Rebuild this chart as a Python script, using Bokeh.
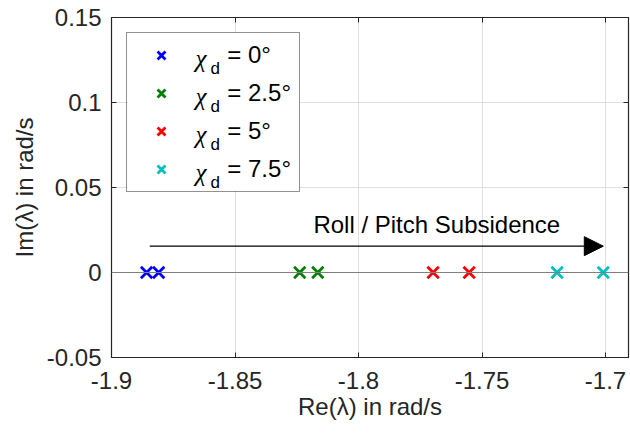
from bokeh.plotting import figure
from bokeh.models import (Legend, LegendItem, Arrow, NormalHead, Label, FixedTicker,
                          LinearAxis, Span, Range1d, CustomJSTickFormatter, BoxAnnotation)
from bokeh.embed import file_html
from bokeh.resources import INLINE

# ---- data ----
series_names = ["0°", "2.5°", "5°", "7.5°"]
series_colors = ["#0000ff", "#008000", "#ff0000", "#00bfbf"]
re_chi_0 = [-1.8858, -1.8809]
re_chi_2_5 = [-1.8238, -1.8165]
re_chi_5 = [-1.7698, -1.7552]
re_chi_7_5 = [-1.7196, -1.7009]
im_vals = [0.0, 0.0]
re_series = [re_chi_0, re_chi_2_5, re_chi_5, re_chi_7_5]

x_ticks = [-1.9, -1.85, -1.8, -1.75, -1.7]
x_tick_labels = ["-1.9", "-1.85", "-1.8", "-1.75", "-1.7"]
y_ticks = [-0.05, 0.0, 0.05, 0.1, 0.15]
y_tick_labels = ["-0.05", "0", "0.05", "0.1", "0.15"]

arrow_x = [-1.8845, -1.7009]
arrow_y = 0.0155
annot_text = "Roll / Pitch Subsidence"
annot_x = -1.7683
annot_y = 0.028

FONT = "Liberation Sans"
FS = "24px"
AX = "#262626"
NB = "\u00a0"

p = figure(width=630, height=437, output_backend="svg", toolbar_location=None,
           x_range=Range1d(-1.9, -1.6907), y_range=Range1d(-0.05, 0.15),
           min_border_left=111, min_border_right=2, min_border_top=17,
           min_border_bottom=80, background_fill_color="white",
           border_fill_color="white")
p.outline_line_color = AX
p.outline_line_width = 1.2

for ax in (p.xaxis[0], p.yaxis[0]):
    ax.major_tick_in = 5
    ax.major_tick_out = 0
    ax.minor_tick_line_color = None
    ax.axis_line_color = AX
    ax.major_tick_line_color = AX
    ax.major_label_text_font = FONT
    ax.major_label_text_font_size = FS
    ax.major_label_text_color = AX
    ax.axis_label_text_font = FONT
    ax.axis_label_text_font_size = FS
    ax.axis_label_text_font_style = "normal"
    ax.axis_label_text_color = AX

p.xaxis[0].ticker = FixedTicker(ticks=x_ticks)
p.xaxis[0].major_label_overrides = dict(zip(x_ticks, x_tick_labels))
p.yaxis[0].ticker = FixedTicker(ticks=y_ticks)
p.yaxis[0].major_label_overrides = dict(zip(y_ticks, y_tick_labels))
p.xaxis[0].axis_label = "Re(λ) in rad/s"
p.yaxis[0].axis_label = "Im(λ) in rad/s"
p.xaxis[0].major_label_standoff = 14
p.yaxis[0].major_label_standoff = 10
p.xaxis[0].axis_label_standoff = 1
p.yaxis[0].axis_label_standoff = 6

# mirrored axes (box with ticks on top/right)
blank = CustomJSTickFormatter(code="return ''")
top_ax = LinearAxis(ticker=FixedTicker(ticks=x_ticks), formatter=blank, major_tick_in=5,
                    major_tick_out=0, minor_tick_line_color=None, major_label_standoff=0,
                    axis_line_color=AX, major_tick_line_color=AX)
right_ax = LinearAxis(ticker=FixedTicker(ticks=y_ticks), formatter=blank, major_tick_in=5,
                      major_tick_out=0, minor_tick_line_color=None, major_label_standoff=0,
                      axis_line_color=AX, major_tick_line_color=AX)
p.add_layout(top_ax, "above")
p.add_layout(right_ax, "right")

p.xgrid.ticker = FixedTicker(ticks=x_ticks)
p.ygrid.ticker = FixedTicker(ticks=y_ticks)
p.grid.grid_line_color = "#dfdfdf"
p.grid.grid_line_width = 1

p.add_layout(Span(location=0, dimension="width", line_color="#808080", line_width=1.2))

items = []
for name, col, xs in zip(series_names, series_colors, re_series):
    r = p.scatter(xs, im_vals, marker="x", size=16, line_width=2.8, line_color=col)
    items.append(LegendItem(label=NB * 5 + "= " + name, renderers=[r]))

FRAME_H = 340
# white backing for the legend (legend itself is transparent so the chi labels show)
p.add_layout(BoxAnnotation(left=16, right=188, top=FRAME_H - 15, bottom=FRAME_H - 173,
                           left_units="screen", right_units="screen",
                           top_units="screen", bottom_units="screen",
                           fill_color="white", fill_alpha=1, line_color=None))

# chi with subscript d for the legend labels
for i in range(len(series_names)):
    row_c = 37 + 38 * i  # row centre measured from frame top
    p.add_layout(Label(x=84, y=FRAME_H - (row_c + 4), x_units="screen", y_units="screen",
                       text="χ", text_font="Liberation Serif", text_font_style="italic",
                       text_font_size="25px", text_color="black",
                       text_baseline="alphabetic"))
    p.add_layout(Label(x=99, y=FRAME_H - (row_c + 14), x_units="screen", y_units="screen",
                       text="d", text_font=FONT, text_font_size="17px",
                       text_color="black", text_baseline="alphabetic"))

legend = Legend(items=items, location="top_left", margin=15, padding=8,
                spacing=10, glyph_width=52, glyph_height=28, label_height=28,
                label_standoff=7, label_text_font=FONT, label_text_font_size=FS,
                label_text_color="black", border_line_color=AX, border_line_width=1.5,
                background_fill_alpha=0)
p.add_layout(legend)

p.add_layout(Arrow(end=NormalHead(size=19, fill_color="black", line_color="black"),
                   x_start=arrow_x[0], y_start=arrow_y, x_end=arrow_x[1], y_end=arrow_y,
                   line_color="black", line_width=1.2))
p.add_layout(Label(x=annot_x, y=annot_y, text=annot_text, text_font=FONT,
                   text_font_size=FS, text_color="black", text_align="center",
                   text_baseline="alphabetic"))

open("out.html", "w").write(file_html(p, INLINE))
